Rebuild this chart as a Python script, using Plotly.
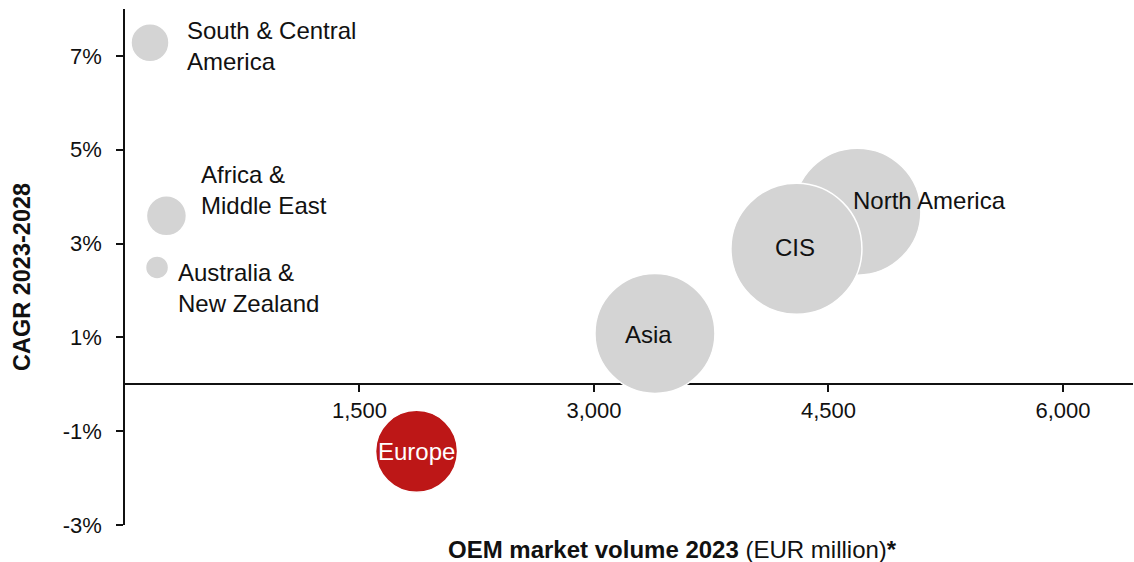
import plotly.graph_objects as go

regions = ["South & Central America", "Africa & Middle East", "Australia & New Zealand",
           "Europe", "Asia", "North America", "CIS"]
labels = ["South & Central<br>America", "Africa &<br>Middle East", "Australia &<br>New Zealand",
          "Europe", "Asia", "North America", "CIS"]
market_volume = [160, 265, 205, 1865, 3390, 4685, 4295]
cagr = [7.28, 3.59, 2.49, -1.43, 1.085, 3.68, 2.89]
bubble_size = [38, 40, 23, 82, 120, 127, 131]
colors = ["#d4d4d4", "#d4d4d4", "#d4d4d4", "#bd1717", "#d4d4d4", "#d4d4d4", "#d4d4d4"]

x_ticks = [1500, 3000, 4500, 6000]
y_ticks = [-3, -1, 1, 3, 5, 7]
y_tick_text = ["-3%", "-1%", "1%", "3%", "5%", "7%"]

FONT = "Liberation Sans, Arial, Helvetica, sans-serif"

fig = go.Figure()
fig.add_trace(go.Scatter(
    x=market_volume, y=cagr, mode="markers",
    marker=dict(size=bubble_size, sizemode="diameter", color=colors, opacity=1,
                line=dict(color="white", width=1.5)),
    hoverinfo="text", text=regions, cliponaxis=False, showlegend=False,
))

# label placement (anchor side and pixel offsets)
label_style = [
    dict(xanchor="left", xshift=35, yshift=-3),
    dict(xanchor="left", xshift=33, yshift=26),
    dict(xanchor="left", xshift=19, yshift=-21),
    dict(xanchor="center", xshift=0, yshift=0),
    dict(xanchor="center", xshift=-6, yshift=-1),
    dict(xanchor="left", xshift=-6, yshift=11),
    dict(xanchor="center", xshift=-1, yshift=1),
]
for i, lab in enumerate(labels):
    st = label_style[i]
    fig.add_annotation(
        x=market_volume[i], y=cagr[i], xref="x", yref="y", text=lab, showarrow=False,
        xanchor=st["xanchor"], yanchor="middle", xshift=st["xshift"], yshift=st["yshift"],
        align="left",
        font=dict(family=FONT, size=24, color="white" if regions[i] == "Europe" else "#111111"),
    )

fig.add_annotation(
    text="<b>OEM market volume 2023</b> (EUR million)<b>*</b>",
    xref="paper", yref="paper", x=(672 - 125) / 1008, y=-0.0484, xanchor="center", yanchor="middle",
    showarrow=False, font=dict(family=FONT, size=24, color="#111111"),
)
fig.add_annotation(
    text="<b>CAGR 2023-2028</b>", textangle=-90,
    xref="paper", yref="paper", x=(22 - 125) / 1008, y=(525 - 277) / 516,
    xanchor="center", yanchor="middle",
    showarrow=False, font=dict(family=FONT, size=23.5, color="#111111"),
)

fig.update_layout(
    width=1134, height=562,
    margin=dict(l=125, r=1, t=9, b=37),
    plot_bgcolor="white", paper_bgcolor="white",
    font=dict(family=FONT, size=22, color="#111111"),
    xaxis=dict(range=[0, 6448], tickvals=x_ticks, tickformat=",", anchor="free",
               position=3 / 11, showline=True, linecolor="#111111", linewidth=1.5,
               ticks="outside", ticklen=7, tickcolor="#111111", tickwidth=1.5,
               showgrid=False, zeroline=False, layer="below traces",
               tickfont=dict(family=FONT, size=22, color="#111111")),
    yaxis=dict(range=[-3, 8], tickvals=y_ticks, ticktext=y_tick_text, showline=True,
               linecolor="#111111", linewidth=1.5, ticks="outside", ticklen=7,
               tickcolor="#111111", tickwidth=1.5, showgrid=False, zeroline=False,
               layer="below traces", ticklabelstandoff=10,
               tickfont=dict(family=FONT, size=22, color="#111111")),
)

fig.write_html("out.html")
